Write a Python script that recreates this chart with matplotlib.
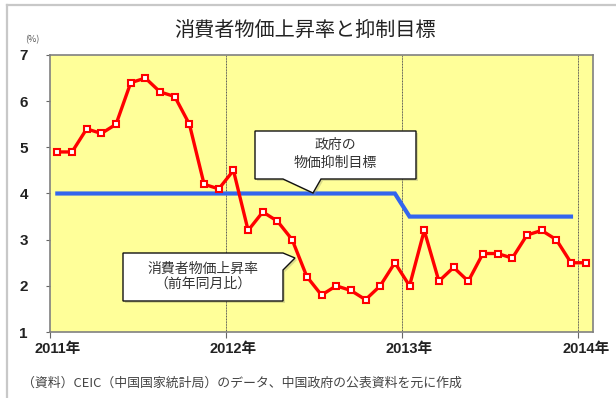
import matplotlib
matplotlib.use("Agg")
import matplotlib.pyplot as plt
from matplotlib.patches import Polygon
from matplotlib.lines import Line2D

plt.rcParams['font.family'] = ['Noto Sans CJK JP', 'DejaVu Sans']
NUM_FONT = ['Liberation Sans', 'Noto Sans CJK JP']

# Monthly CPI (YoY, %) Jan 2011 - Jan 2014
cpi = [4.9, 4.9, 5.4, 5.3, 5.5, 6.4, 6.5, 6.2, 6.1, 5.5, 4.2, 4.1,
       4.5, 3.2, 3.6, 3.4, 3.0, 2.2, 1.8, 2.0, 1.9, 1.7, 2.0, 2.5,
       2.0, 3.2, 2.1, 2.4, 2.1, 2.7, 2.7, 2.6, 3.1, 3.2, 3.0, 2.5,
       2.5]
# Government inflation target (%), 2011-2012 and 2013
target = [4.0] * 24 + [3.5] * 12
year_labels = ["2011年", "2012年", "2013年", "2014年"]
y_ticks = [1, 2, 3, 4, 5, 6, 7]

W, H = 616, 398
fig = plt.figure(figsize=(W / 100, H / 100), dpi=100)
fig.patch.set_facecolor("white")


def fx(px):
    return px / W


def fy(py):
    return 1 - py / H


# outer frame lines
fig.add_artist(Line2D([fx(7), fx(616)], [fy(5), fy(5)], color="#c8c8c8", lw=1.6))
fig.add_artist(Line2D([fx(7), fx(7)], [fy(5), fy(398)], color="#c8c8c8", lw=1.6))

ax = fig.add_axes([fx(50), fy(332), fx(593) - fx(50), fy(55) - fy(332)])
ax.set_facecolor("#ffff99")

n = len(cpi)
x = list(range(n))
ax.set_xlim(-0.5, n - 0.5)
ax.set_ylim(1, 7)

# year separators
for b in (11.5, 23.5, 35.5):
    ax.axvline(b, color="#555555", lw=0.7, ls=(0, (1, 0.6)), zorder=1)

ax.plot(list(range(len(target))), target, color="#3366ee", lw=3, zorder=2,
        solid_joinstyle="miter")
ax.plot(x, cpi, color="#ff0000", lw=2.4, marker="s", markersize=5,
        markerfacecolor="white", markeredgecolor="#ff0000", markeredgewidth=1.5,
        zorder=3)

for s in ax.spines.values():
    s.set_color("#808080")
    s.set_linewidth(1.2)

ax.set_yticks(y_ticks)
ax.set_yticklabels([str(v) for v in y_ticks], fontsize=11, fontweight="bold",
                   color="#222222", family=NUM_FONT)
ax.tick_params(axis="y", length=3, width=0.8, color="#666666", pad=13)

ax.set_xticks([-0.5, 11.5, 23.5, 35.5])
ax.set_xticklabels([])
ax.tick_params(axis="x", length=4, width=0.8, color="#666666")
for i, lab in enumerate(year_labels):
    ax.text(i * 12, -0.06, lab, transform=ax.get_xaxis_transform(),
            ha="center", va="center", fontsize=10.5, fontweight="bold",
            color="#222222", family=NUM_FONT)

# title and notes
fig.text(fx(305), fy(30), "消費者物価上昇率と抑制目標", ha="center", va="center",
         fontsize=14.5, color="#222222")
fig.text(fx(32), fy(40), "(%)", ha="center", va="center", fontsize=6.5,
         color="#555555")
fig.text(fx(22), fy(383),
         "（資料）CEIC（中国国家統計局）のデータ、中国政府の公表資料を元に作成",
         ha="left", va="center", fontsize=9.3, color="#444444")


def callout(pts, lines):
    poly = Polygon([(fx(a), fy(b)) for a, b in pts], closed=True,
                   transform=fig.transFigure, facecolor="white",
                   edgecolor="#111111", lw=1.0, zorder=5)
    shadow = Polygon([(fx(a + 2), fy(b + 2)) for a, b in pts], closed=True,
                     transform=fig.transFigure, facecolor="#9a9a70",
                     edgecolor="none", alpha=0.35, zorder=4)
    fig.add_artist(shadow)
    fig.add_artist(poly)
    for (tx, ty, t) in lines:
        fig.text(fx(tx), fy(ty), t, ha="center", va="center", fontsize=10,
                 color="#333333", zorder=6)


callout([(255, 131), (416, 131), (416, 179), (321, 179), (313, 193),
         (283, 179), (255, 179)],
        [(335, 145, "政府の"), (335, 163, "物価抑制目標")])
callout([(123, 253), (283, 253), (295, 258), (283, 270), (283, 301),
         (123, 301)],
        [(203, 269, "消費者物価上昇率"), (203, 284, "（前年同月比）")])

fig.savefig("out.png", dpi=100)
